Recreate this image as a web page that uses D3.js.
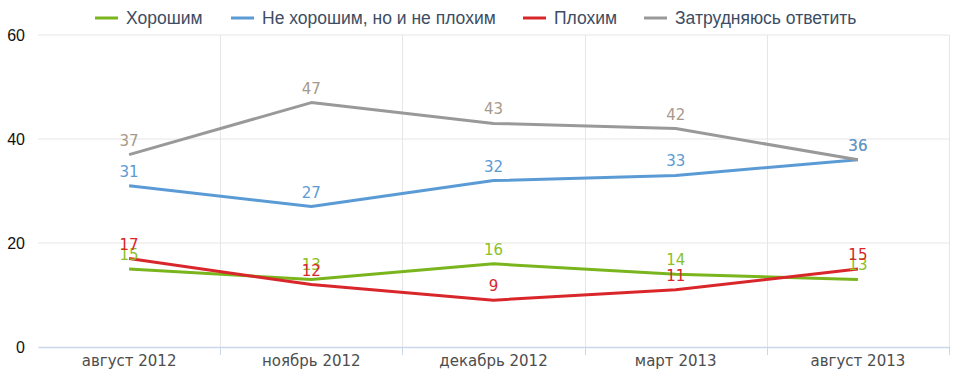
<!DOCTYPE html>
<html><head><meta charset="utf-8">
<script src="https://cdn.jsdelivr.net/npm/d3@7/dist/d3.min.js"></script>
<style>body{margin:0;background:#fff}svg{display:block}</style>
</head><body>
<svg id="c" width="967" height="388"></svg>
<script>
const categories = ["август 2012","ноябрь 2012","декабрь 2012","март 2013","август 2013"];
const seriesNames = ["Хорошим","Не хорошим, но и не плохим","Плохим","Затрудняюсь ответить"];
const good = [15,13,16,14,13];
const neutral = [31,27,32,33,36];
const bad = [17,12,9,11,15];
const unsure = [37,47,43,42,36];
const yTicks = [0,20,40,60];

const colors = ["#7ab51d","#5b9bd5","#d9262b","#999999"];
const labelColors = ["#8cbf26","#5b9bd5","#d9262b","#a69a8c"];
const seriesValues = [good, neutral, bad, unsure];

const svg = d3.select("#c");
const L = 38, R = 949, T = 35, B = 347;
const x = d3.scaleBand().domain(categories).range([L, R]);
const y = d3.scaleLinear().domain([0, 60]).range([B, T]);

// horizontal grid
svg.append("g").selectAll("line").data(yTicks.filter(d=>d>0)).join("line")
  .attr("x1", L).attr("x2", R).attr("y1", d=>y(d)).attr("y2", d=>y(d))
  .attr("stroke", "#e6e6e6").attr("stroke-width", 1);
// vertical grid
const bounds = categories.map((c,i)=>x(c)+x.bandwidth());
svg.append("g").selectAll("line").data(bounds).join("line")
  .attr("x1", d=>Math.round(d)+0.5).attr("x2", d=>Math.round(d)+0.5)
  .attr("y1", T).attr("y2", B+8)
  .attr("stroke", "#e6e6e6").attr("stroke-width", 1);

// x axis
const xa = svg.append("g").attr("transform", `translate(0,${B})`)
  .call(d3.axisBottom(x).tickSize(0).tickPadding(8));
xa.select(".domain").attr("stroke", "#ccd6eb").attr("stroke-width", 1.5);
xa.selectAll("text").attr("font-family", "'DejaVu Sans', sans-serif").attr("font-size", 15).attr("fill", "#4d4d4d");
svg.append("g").selectAll("line").data(bounds).join("line")
  .attr("x1", d=>Math.round(d)+0.5).attr("x2", d=>Math.round(d)+0.5)
  .attr("y1", B).attr("y2", B+8).attr("stroke", "#ccd6eb").attr("stroke-width", 1);

// y axis labels
svg.append("g").selectAll("text").data(yTicks).join("text")
  .attr("x", 25).attr("y", d=>y(d)+6).attr("text-anchor", "end")
  .attr("font-family", "'Liberation Sans', Arial, sans-serif").attr("font-size", 16).attr("fill", "#111")
  .text(d=>d);

// lines
const line = d3.line().x((d,i)=>x(categories[i])+x.bandwidth()/2).y(d=>y(d));
seriesValues.forEach((vals, s) => {
  svg.append("path").datum(vals).attr("d", line).attr("fill", "none")
    .attr("stroke", colors[s]).attr("stroke-width", 3).attr("stroke-linejoin", "round");
});
// labels (draw order so the visible label on overlaps matches)
[3, 0, 2, 1].forEach(s => {
  svg.append("g").selectAll("text").data(seriesValues[s]).join("text")
    .attr("x", (d,i)=>x(categories[i])+x.bandwidth()/2)
    .attr("y", d=>y(d)-9).attr("text-anchor", "middle")
    .attr("font-family", "'DejaVu Sans', sans-serif").attr("font-size", 15)
    .attr("fill", labelColors[s]).text(d=>d);
});

// legend
const legX = [95, 231, 523, 644];
const lg = svg.append("g");
seriesNames.forEach((n, s) => {
  lg.append("line").attr("x1", legX[s]).attr("x2", legX[s]+23).attr("y1", 18).attr("y2", 18)
    .attr("stroke", colors[s]).attr("stroke-width", 3);
  lg.append("text").attr("x", legX[s]+31).attr("y", 24)
    .attr("font-family", "'Liberation Sans', Arial, sans-serif").attr("font-size", 17.5)
    .attr("fill", "#3d4d63").text(n);
});
</script>
</body></html>
